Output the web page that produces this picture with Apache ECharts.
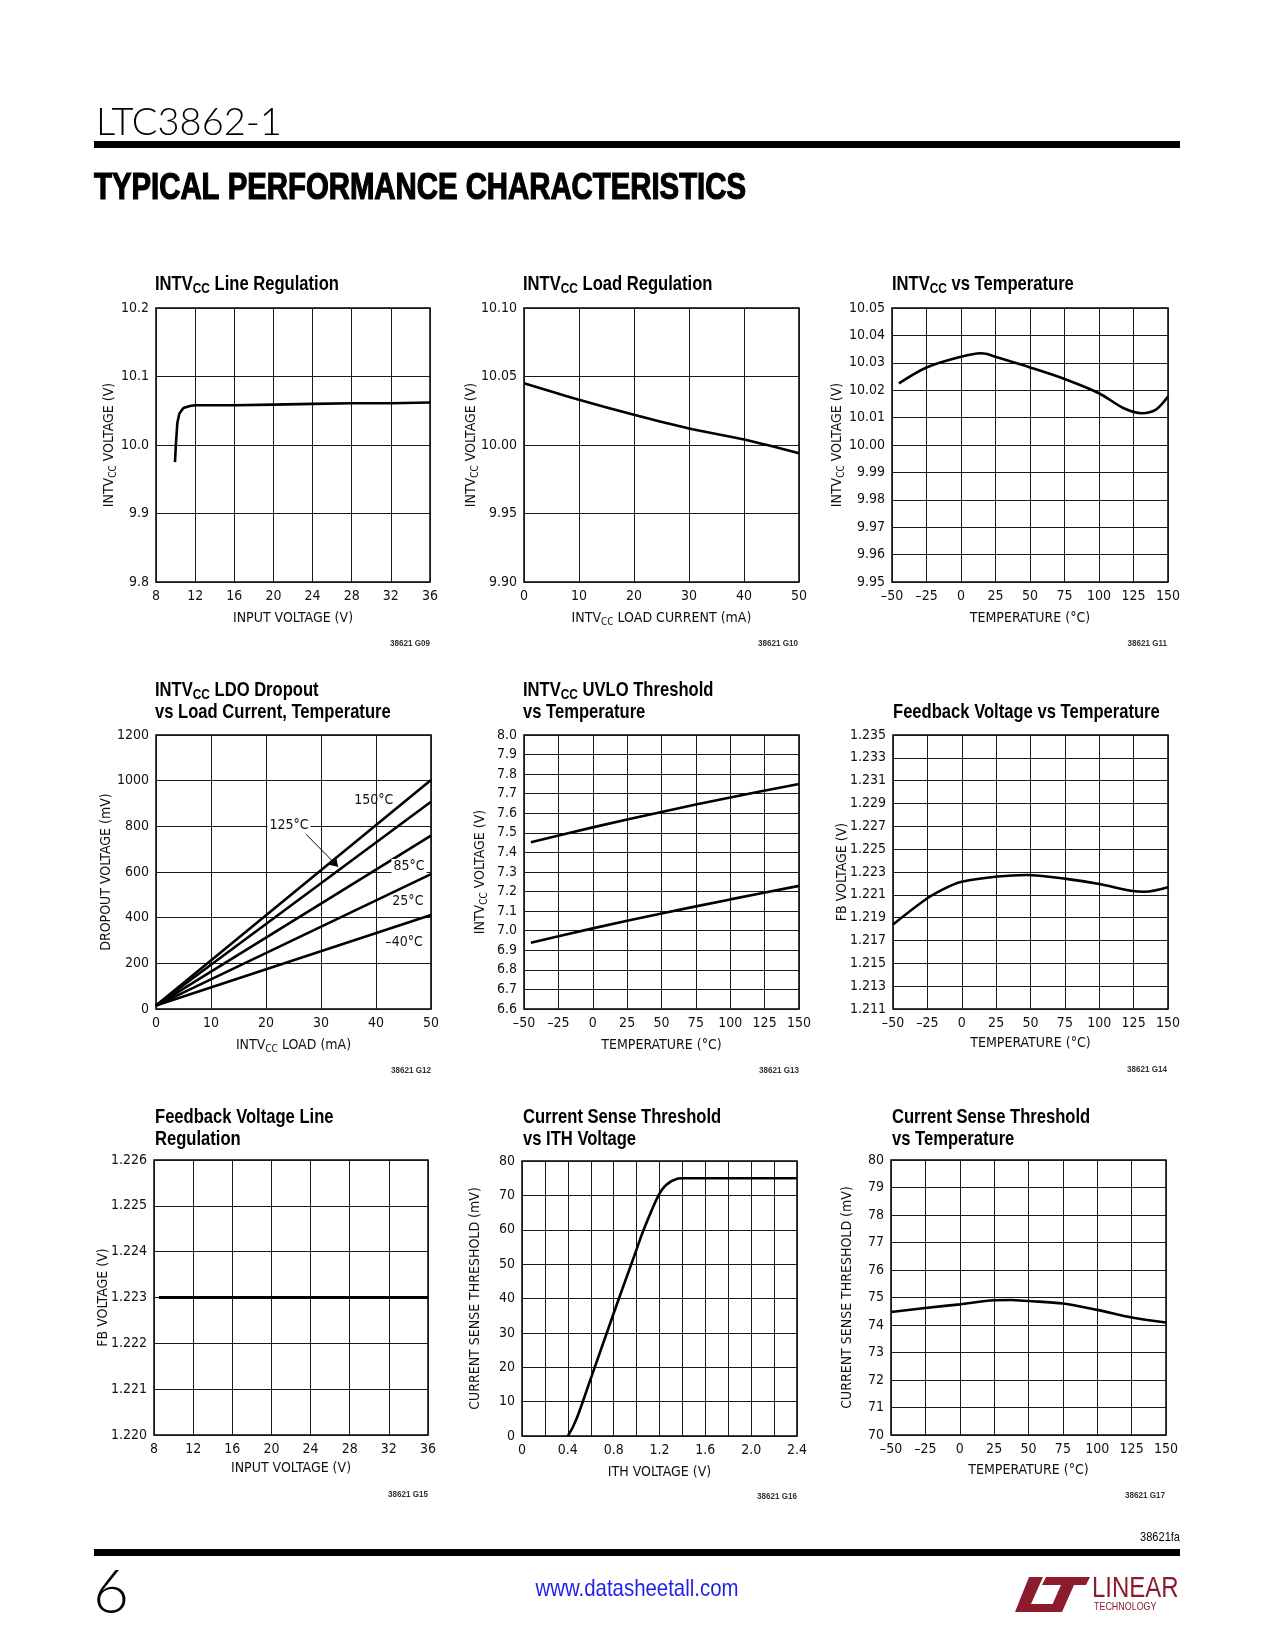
<!DOCTYPE html>
<html><head><meta charset="utf-8">
<script src="https://cdn.jsdelivr.net/npm/echarts@6/dist/echarts.min.js"></script>
<style>html,body{margin:0;padding:0;background:#fff}#c{width:1275px;height:1650px}</style>
</head><body><div id="c"></div>
<script>
// ---------- DATA ----------
// G09 INTVcc Line Regulation
const g09InputV = [9.94, 10.04, 10.18, 10.39, 10.8, 11.47, 11.98, 16, 20, 24, 28, 32, 36];
const g09Intvcc = [9.975, 10.0025, 10.032, 10.046, 10.054, 10.057, 10.058, 10.058, 10.059, 10.06, 10.061, 10.061, 10.062];
// G10 INTVcc Load Regulation
const g10Load = [0, 10, 20, 30, 40, 50];
const g10Intvcc = [10.045, 10.033, 10.022, 10.012, 10.004, 9.994];
// G11 INTVcc vs Temperature
const g11Temp = [-45, -25, 0, 14, 19, 26, 50, 75, 100, 118, 131, 141, 150];
const g11Intvcc = [10.0225, 10.0283, 10.0322, 10.0335, 10.0332, 10.032, 10.0283, 10.0241, 10.0189, 10.0134, 10.0116, 10.0128, 10.0177];
// G12 LDO Dropout vs load, temperature
const g12Load = [0, 50];
const g12T150 = [15, 1003];
const g12T125 = [15, 908];
const g12T85 = [15, 759];
const g12T25 = [15, 591];
const g12Tm40 = [15, 412];
const g12Labels = ['150°C', '125°C', '85°C', '25°C', '–40°C'];
// G13 UVLO threshold vs temperature
const g13Temp = [-45, 0, 50, 100, 150];
const g13Rising = [7.452, 7.528, 7.607, 7.681, 7.75];
const g13Falling = [6.939, 7.012, 7.088, 7.16, 7.229];
// G14 Feedback voltage vs temperature
const g14Temp = [-50, -25, -10, 0, 26, 47, 76, 100, 123, 133, 150];
const g14Fb = [1.2184, 1.2207, 1.2217, 1.22215, 1.2226, 1.22274, 1.2224, 1.22195, 1.22136, 1.22127, 1.22166];
// G15 Feedback voltage line regulation
const g15InputV = [8.5, 36];
const g15Fb = [1.223, 1.223];
// G16 Current sense threshold vs ITH
const g16Ith = [0.4, 0.445, 0.489, 0.591, 0.8, 0.983, 1.056, 1.187, 1.26, 1.361, 1.4, 2.4];
const g16Sense = [0, 2.7, 6.1, 15.8, 35.7, 52.7, 59.5, 69.7, 73.1, 74.9, 75, 75];
// G17 Current sense threshold vs temperature
const g17Temp = [-50, -25, 0, 25, 37, 50, 75, 100, 125, 150];
const g17Sense = [74.47, 74.62, 74.75, 74.9, 74.91, 74.87, 74.78, 74.55, 74.27, 74.09];

// axis ranges [min, max, interval]
const inputVRange = [8, 36, 4];
const tempRange = [-50, 150, 25];
const loadRange = [0, 50, 10];
const g09YRange = [9.8, 10.2, 0.1];
const g10YRange = [9.9, 10.1, 0.05];
const g11YRange = [9.95, 10.05, 0.01];
const g12YRange = [0, 1200, 200];
const g13YRange = [6.6, 8.0, 0.1];
const g14YRange = [1.211, 1.235, 0.002];
const g15YRange = [1.220, 1.226, 0.001];
const g16XRange = [0, 2.4, 0.2];
const g16YRange = [0, 80, 10];
const g17YRange = [70, 80, 1];

// ---------- STYLE ----------
const FONT = "'DejaVu Sans Condensed','Liberation Sans',sans-serif";
const TFONT = "'Liberation Sans',Arial,sans-serif";
const TXT = '#111';
const nameRich = {
  a: {fontFamily: FONT, fontSize: 14, color: TXT, lineHeight: 17},
  s: {fontFamily: FONT, fontSize: 10, color: TXT, lineHeight: 9, verticalAlign: 'bottom'}
};
const fmtTemp = v => v < 0 ? '–' + Math.abs(v) : String(v);
const zip = (a, b) => a.map((v, i) => [v, b[i]]);

const charts = [
  {g: [156, 308, 274, 274], xr: inputVRange, xf: v => String(v), xn: '{a|INPUT VOLTAGE (V)}', xg: 28,
   yr: g09YRange, yf: v => v.toFixed(1), yn: '{a|INTV}{s|CC}{a| VOLTAGE (V)}', yg: 38,
   s: [[g09InputV, g09Intvcc]], smooth: false},
  {g: [524, 308, 275, 274], xr: loadRange, xf: v => String(v), xn: '{a|INTV}{s|CC}{a| LOAD CURRENT (mA)}', xg: 28,
   yr: g10YRange, yf: v => v.toFixed(2), yn: '{a|INTV}{s|CC}{a| VOLTAGE (V)}', yg: 44,
   s: [[g10Load, g10Intvcc]], smooth: true},
  {g: [892, 308, 276, 274], xr: tempRange, xf: fmtTemp, xn: '{a|TEMPERATURE (°C)}', xg: 28,
   yr: g11YRange, yf: v => v.toFixed(2), yn: '{a|INTV}{s|CC}{a| VOLTAGE (V)}', yg: 46,
   s: [[g11Temp, g11Intvcc]], smooth: true},
  {g: [156, 735, 275, 274], xr: loadRange, xf: v => String(v), xn: '{a|INTV}{s|CC}{a| LOAD (mA)}', xg: 28,
   yr: g12YRange, yf: v => String(v), yn: '{a|DROPOUT VOLTAGE (mV)}', yg: 41,
   s: [[g12Load, g12T150], [g12Load, g12T125], [g12Load, g12T85], [g12Load, g12T25], [g12Load, g12Tm40]], smooth: false},
  {g: [524, 735, 275, 274], xr: tempRange, xf: fmtTemp, xn: '{a|TEMPERATURE (°C)}', xg: 28,
   yr: g13YRange, yf: v => v.toFixed(1), yn: '{a|INTV}{s|CC}{a| VOLTAGE (V)}', yg: 35,
   s: [[g13Temp, g13Rising], [g13Temp, g13Falling]], smooth: true},
  {g: [893, 735, 275, 274], xr: tempRange, xf: fmtTemp, xn: '{a|TEMPERATURE (°C)}', xg: 26,
   yr: g14YRange, yf: v => v.toFixed(3), yn: '{a|FB VOLTAGE (V)}', yg: 42,
   s: [[g14Temp, g14Fb]], smooth: true},
  {g: [154, 1160, 274, 275], xr: inputVRange, xf: v => String(v), xn: '{a|INPUT VOLTAGE (V)}', xg: 25,
   yr: g15YRange, yf: v => v.toFixed(3), yn: '{a|FB VOLTAGE (V)}', yg: 42,
   s: [[g15InputV, g15Fb]], smooth: false, w: 3},
  {g: [522, 1161, 275, 275], xr: g16XRange, xf: v => { const k = Math.round(v / 0.2); return k % 2 ? '' : (k === 0 ? '0' : v.toFixed(1)); },
   xn: '{a|ITH VOLTAGE (V)}', xg: 28,
   yr: g16YRange, yf: v => String(v), yn: '{a|CURRENT SENSE THRESHOLD (mV)}', yg: 38,
   s: [[g16Ith, g16Sense]], smooth: true},
  {g: [891, 1160, 275, 275], xr: tempRange, xf: fmtTemp, xn: '{a|TEMPERATURE (°C)}', xg: 27,
   yr: g17YRange, yf: v => String(v), yn: '{a|CURRENT SENSE THRESHOLD (mV)}', yg: 35,
   s: [[g17Temp, g17Sense]], smooth: true}
];

const grid = [], xAxis = [], yAxis = [], series = [];
charts.forEach((c, i) => {
  grid.push({left: c.g[0], top: c.g[1], width: c.g[2], height: c.g[3], show: true,
    borderColor: '#000', borderWidth: 1.5, backgroundColor: '#fff', outerBoundsMode: 'none'});
  const common = {
    gridIndex: i, type: 'value', axisLine: {show: false}, axisTick: {show: false},
    splitLine: {show: true, lineStyle: {color: '#1a1a1a', width: 1}},
    nameLocation: 'middle', nameMoveOverlap: false, nameTextStyle: {rich: nameRich}
  };
  const lab = {fontFamily: FONT, fontSize: 14, color: TXT, margin: 7, showMinLabel: true, showMaxLabel: true, hideOverlap: false};
  xAxis.push(Object.assign({}, common, {
    min: c.xr[0], max: c.xr[1], interval: c.xr[2], name: c.xn, nameGap: c.xg,
    axisLabel: Object.assign({formatter: c.xf}, lab)
  }));
  yAxis.push(Object.assign({}, common, {
    min: c.yr[0], max: c.yr[1], interval: c.yr[2], name: c.yn, nameGap: c.yg,
    axisLabel: Object.assign({formatter: c.yf}, lab)
  }));
  c.s.forEach(s => {
    series.push({type: 'line', xAxisIndex: i, yAxisIndex: i, data: zip(s[0], s[1]),
      showSymbol: false, smooth: c.smooth ? 0.3 : false, silent: true, animation: false,
      lineStyle: {color: '#000', width: c.w || 2.6}, z: 5});
  });
});

// arrow for 125°C label (data coordinates of chart G12)
series.push({type: 'line', xAxisIndex: 3, yAxisIndex: 3, data: [], silent: true, animation: false,
  markLine: {silent: true, animation: false, symbol: ['none', 'arrow'], symbolSize: 9,
    label: {show: false}, lineStyle: {color: '#000', width: 1, type: 'solid'},
    data: [[{coord: [27.3, 765]}, {coord: [33.1, 623]}]]}});

const chart = echarts.init(document.getElementById('c'), null, {renderer: 'canvas', width: 1275, height: 1650});
chart.setOption({animation: false, backgroundColor: '#fff', grid, xAxis, yAxis, series});

// ---------- TEXT / GRAPHICS ----------
const titleRich = {
  t: {fontFamily: TFONT, fontWeight: 'bold', fontSize: 21, lineHeight: 24, color: TXT},
  s: {fontFamily: TFONT, fontWeight: 'bold', fontSize: 15, lineHeight: 12, verticalAlign: 'bottom', color: TXT}
};
const titles = [
  [155, 290, '{t|INTV}{s|CC}{t| Line Regulation}'],
  [523, 290, '{t|INTV}{s|CC}{t| Load Regulation}'],
  [892, 290, '{t|INTV}{s|CC}{t| vs Temperature}'],
  [155, 696, '{t|INTV}{s|CC}{t| LDO Dropout}'],
  [155, 718, '{t|vs Load Current, Temperature}'],
  [523, 696, '{t|INTV}{s|CC}{t| UVLO Threshold}'],
  [523, 718, '{t|vs Temperature}'],
  [893, 718, '{t|Feedback Voltage vs Temperature}'],
  [155, 1123, '{t|Feedback Voltage Line}'],
  [155, 1145, '{t|Regulation}'],
  [523, 1123, '{t|Current Sense Threshold}'],
  [523, 1145, '{t|vs ITH Voltage}'],
  [892, 1123, '{t|Current Sense Threshold}'],
  [892, 1145, '{t|vs Temperature}']
];
const ids = [
  [430, 643, '38621 G09'], [798, 643, '38621 G10'], [1167, 643, '38621 G11'],
  [431, 1070, '38621 G12'], [799, 1070, '38621 G13'], [1167, 1069, '38621 G14'],
  [428, 1494, '38621 G15'], [797, 1496, '38621 G16'], [1165, 1495, '38621 G17']
];
const g = [];
titles.forEach(t => g.push({type: 'text', x: t[0], y: t[1] - 18, scaleX: 0.79, style: {x: 0, y: 0, text: t[2], rich: titleRich, verticalAlign: 'top'}}));
ids.forEach(t => g.push({type: 'text', x: t[0], y: t[1], scaleX: 0.85, style: {x: 0, y: 0, text: t[2], fontFamily: TFONT, fontWeight: 'bold', fontSize: 9.5, fill: '#333', align: 'right', verticalAlign: 'middle'}}));

// G12 curve labels, positioned through the chart's own scales
const g12LabelPos = [[39.6, 912, false], [24.2, 803, true], [46.0, 626, true], [45.8, 470, false], [45.1, 293, false]];
g12LabelPos.forEach((p, i) => {
  const px = chart.convertToPixel({gridIndex: 3}, [p[0], p[1]]);
  g.push({type: 'text', x: px[0], y: px[1], z: 10, style: {text: g12Labels[i], fontFamily: FONT, fontSize: 14, fill: TXT,
    align: 'center', verticalAlign: 'middle', backgroundColor: p[2] ? '#fff' : null, padding: p[2] ? [0, 2, 0, 2] : 0}});
});

// header
g.push({type: 'text', x: 96, y: 104, style: {text: 'LTC3862-1', fontFamily: "Lato, 'Open Sans', sans-serif", fontWeight: 300, fontSize: 38, fill: '#000', verticalAlign: 'top'}});
g.push({type: 'rect', shape: {x: 94, y: 141, width: 1086, height: 7}, style: {fill: '#000'}});
g.push({type: 'text', x: 94, y: 171, scaleX: 0.815, style: {x: 0, y: 0, text: 'TYPICAL PERFORMANCE CHARACTERISTICS', fontFamily: TFONT, fontWeight: 900, fontSize: 36, fill: '#000', verticalAlign: 'top', stroke: '#000', lineWidth: 1.2}});
// footer
g.push({type: 'text', x: 1180, y: 1537, scaleX: 0.85, style: {x: 0, y: 0, text: '38621fa', fontFamily: TFONT, fontSize: 13, fill: '#000', align: 'right', verticalAlign: 'middle'}});
g.push({type: 'rect', shape: {x: 94, y: 1549, width: 1086, height: 7}, style: {fill: '#000'}});
g.push({type: 'text', x: 93, y: 1562, style: {text: '6', fontFamily: "Lato, 'Open Sans', sans-serif", fontWeight: 300, fontSize: 62, fill: '#000', verticalAlign: 'top'}});
g.push({type: 'text', x: 637, y: 1589, scaleX: 0.85, style: {x: 0, y: 0, text: 'www.datasheetall.com', fontFamily: TFONT, fontSize: 24, fill: '#1f1fe8', align: 'center', verticalAlign: 'middle'}});
const LOGO = '#8c1c2c';
g.push({type: 'polygon', shape: {points: [[1029, 1577], [1043, 1577], [1031, 1604], [1057, 1604], [1053, 1612], [1015, 1612]]}, style: {fill: LOGO}});
g.push({type: 'polygon', shape: {points: [[1046, 1577], [1090, 1577], [1086, 1585], [1074, 1585], [1062, 1612], [1049, 1612], [1061, 1585], [1042, 1585]]}, style: {fill: LOGO}});
g.push({type: 'text', x: 1092, y: 1589, scaleX: 0.8, style: {x: 0, y: 0, text: 'LINEAR', fontFamily: TFONT, fontSize: 30, fill: LOGO, verticalAlign: 'middle'}});
g.push({type: 'text', x: 1094, y: 1607, scaleX: 0.85, style: {x: 0, y: 0, text: 'TECHNOLOGY', fontFamily: TFONT, fontSize: 10.5, fill: LOGO, verticalAlign: 'middle'}});

chart.setOption({graphic: g});
</script></body></html>
